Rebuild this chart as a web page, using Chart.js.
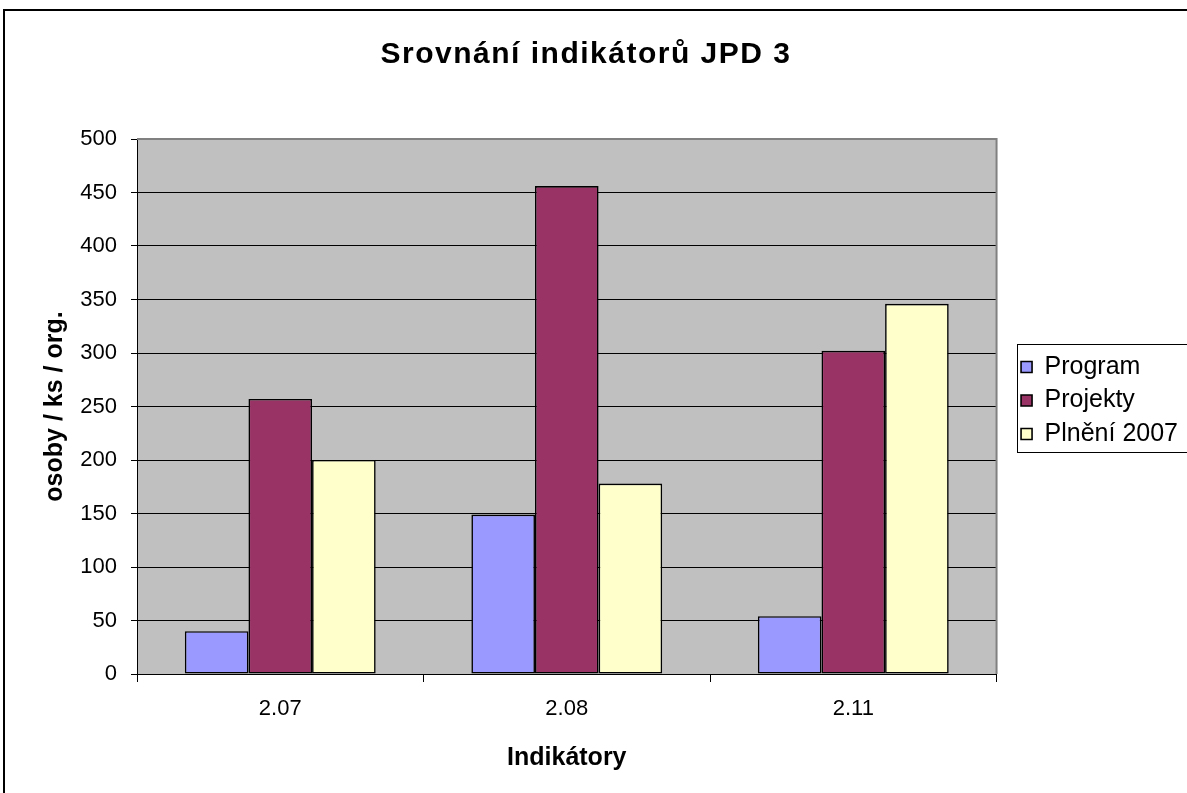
<!DOCTYPE html>
<html>
<head>
<meta charset="utf-8">
<script src="https://cdn.jsdelivr.net/npm/chart.js@4.4.1/dist/chart.umd.min.js"></script>
<style>
html, body { margin: 0; padding: 0; background: #fff; }
#wrap { width: 1187px; height: 793px; }
</style>
</head>
<body>
<div id="wrap"><canvas id="chart" width="1187" height="793"></canvas></div>
<script>
// data
const categories = ['2.07', '2.08', '2.11'];
const seriesNames = ['Program', 'Projekty', 'Plnění 2007'];
const programValues = [40, 149, 54];
const projektyValues = [257, 456, 302];
const plneniValues = [200, 178, 346];
const yMin = 0;
const yMax = 500;
const yStep = 50;

const seriesColors = ['#9999FF', '#993366', '#FFFFCC'];

Chart.defaults.font.family = "'Liberation Sans', Arial, sans-serif";
Chart.defaults.color = '#000';

// plot background, borders, legend frame, title spacing
const frame = {
	id: 'frame',
	afterLayout(chart) {
		const lg = chart.legend;
		lg.left += 16; lg.right += 16;
		lg.top += 4; lg.bottom += 4;
	},
	beforeDraw(chart) {
		const { ctx, chartArea: a } = chart;
		if (!chart.titleBlock._spaced) {
			const t = chart.titleBlock;
			const orig = t.draw.bind(t);
			t.draw = function () {
				ctx.save();
				ctx.letterSpacing = '1.5px';
				orig();
				ctx.restore();
			};
			t._spaced = true;
		}
		ctx.save();
		ctx.fillStyle = '#fff';
		ctx.fillRect(0, 0, chart.width, chart.height);
		ctx.fillStyle = '#C0C0C0';
		ctx.fillRect(a.left, a.top, a.right - a.left, a.bottom - a.top);
		ctx.restore();
	},
	afterDraw(chart) {
		const { ctx, chartArea: a } = chart;
		ctx.save();
		ctx.strokeStyle = '#808080';
		ctx.lineWidth = 2;
		ctx.beginPath();
		ctx.moveTo(a.left, a.top);
		ctx.lineTo(a.right, a.top);
		ctx.lineTo(a.right, a.bottom);
		ctx.stroke();

		const boxes = chart.legend.legendHitBoxes;
		const first = boxes[0];
		const last = boxes[boxes.length - 1];
		const top = first.top + first.height / 2 - 23;
		const bottom = last.top + last.height / 2 + 18;
		ctx.strokeStyle = '#000';
		ctx.lineWidth = 1;
		ctx.strokeRect(Math.round(first.left) - 3.5, Math.round(top) + 0.5, chart.width, bottom - top);

		ctx.lineWidth = 2;
		ctx.strokeRect(4, 10, chart.width, chart.height);
		ctx.restore();
	}
};

new Chart(document.getElementById('chart'), {
	type: 'bar',
	data: {
		labels: categories,
		datasets: [
			{ label: seriesNames[0], data: programValues, backgroundColor: seriesColors[0] },
			{ label: seriesNames[1], data: projektyValues, backgroundColor: seriesColors[1] },
			{ label: seriesNames[2], data: plneniValues, backgroundColor: seriesColors[2] }
		].map(d => Object.assign(d, {
			borderColor: '#000',
			borderWidth: 1.6,
			borderSkipped: false,
			categoryPercentage: 0.666,
			barPercentage: 1
		}))
	},
	options: {
		responsive: false,
		animation: false,
		layout: { padding: { left: 0, top: 0, right: 15, bottom: 0 } },
		plugins: {
			title: {
				display: true,
				text: 'Srovnání indikátorů JPD 3',
				color: '#000',
				font: { size: 30, weight: 'bold' },
				padding: { top: 37, bottom: 66 }
			},
			legend: {
				position: 'right',
				labels: {
					color: '#000',
					font: { size: 25 },
					boxWidth: 11,
					boxHeight: 11,
					padding: 8.5
				}
			},
			tooltip: { enabled: false }
		},
		scales: {
			x: {
				afterFit: s => { s.height = 119; },
				border: { color: '#000', width: 1 },
				grid: {
					offset: true,
					drawOnChartArea: false,
					color: '#000',
					tickColor: '#000',
					tickLength: 8
				},
				ticks: { font: { size: 22 }, padding: 14, color: '#000' },
				title: {
					display: true,
					text: 'Indikátory',
					color: '#000',
					font: { size: 25, weight: 'bold' },
					padding: { top: 0, bottom: 20 }
				}
			},
			y: {
				min: yMin,
				max: yMax,
				afterFit: s => { s.width = 137; },
				border: { color: '#000', width: 1 },
				grid: {
					color: '#000',
					tickColor: '#000',
					tickLength: 6,
					lineWidth: 1
				},
				ticks: { stepSize: yStep, font: { size: 22 }, padding: 14, color: '#000' },
				title: {
					display: true,
					text: 'osoby / ks / org.',
					color: '#000',
					font: { size: 25, weight: 'bold' },
					padding: { top: 40, bottom: 0 }
				}
			}
		}
	},
	plugins: [frame]
});
</script>
</body>
</html>
